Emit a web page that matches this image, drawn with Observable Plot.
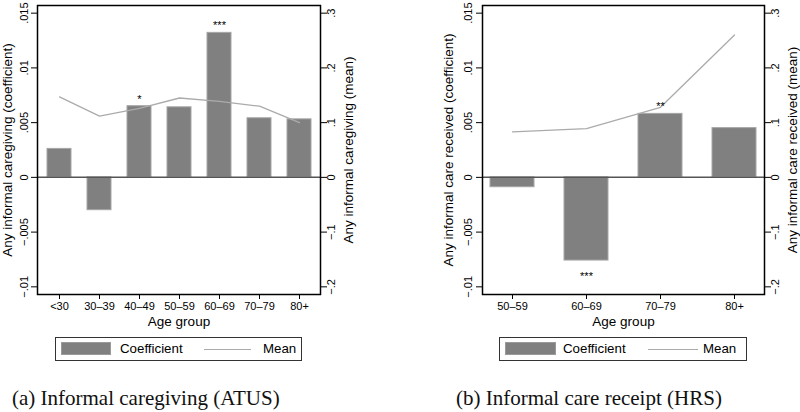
<!DOCTYPE html>
<html><head><meta charset="utf-8">
<script src="https://cdn.jsdelivr.net/npm/d3@7"></script>
<script src="https://cdn.jsdelivr.net/npm/@observablehq/plot@0.6"></script>
<style>
body{margin:0;background:#fff;font-family:"Liberation Sans",Arial,sans-serif;}
#wrap{position:relative;width:800px;height:412px;overflow:hidden;background:#fff}
.panel{position:absolute;top:0;width:400px;height:412px}
.panel svg{position:absolute;left:0;top:0}
g[aria-label$="axis label"], g[aria-label$="axis label"] text{font-size:13.5px !important}
.legend{position:absolute;top:337px;height:24px;border:1px solid #333;box-sizing:border-box;font-size:13.3px;color:#000}
.legend .sw{position:absolute;top:4px;height:13px;background:#808080;border:1px solid #9a9a9a;box-sizing:border-box}
.legend .ln{position:absolute;top:11px;height:0;border-top:1.3px solid #ababab}
.legend .tx{position:absolute;top:3px;line-height:15px;white-space:nowrap}
.caption{position:absolute;top:386px;font-family:"Liberation Serif","Times New Roman",serif;font-size:21px;color:#111;white-space:nowrap;line-height:24px}
</style></head>
<body><div id="wrap"></div>
<script>
const ageA = ["<30","30\u201339","40\u201349","50\u201359","60\u201369","70\u201379","80+"];
const coefA = [0.0026,-0.0030,0.0065,0.0064,0.0132,0.0054,0.0053];
const meanA = [0.147,0.112,0.126,0.145,0.139,0.130,0.100];
const starsA = ["","","*","","***","",""];

const ageB = ["50\u201359","60\u201369","70\u201379","80+"];
const coefB = [-0.0009,-0.0076,0.0058,0.0045];
const meanB = [0.083,0.089,0.128,0.260];
const starsB = ["","***","**",""];

const yTicks = [-0.01,-0.005,0,0.005,0.01,0.015];
const yTickLabels = ["\u2212.01","\u2212.005","0",".005",".01",".015"];
const meanTickLabels = ["\u2212.2","\u2212.1","0",".1",".2",".3"];
const meanPerCoef = 20;

function panel(cfg){
  const data = cfg.age.map((a,i)=>({age:a, coef:cfg.coef[i], mean:cfg.mean[i], star:cfg.stars[i]}));
  return Plot.plot({
    width:400, height:334, marginLeft:cfg.ml, marginRight:cfg.mr, marginTop:5, marginBottom:40,
    style:{fontFamily:"Liberation Sans, Arial, sans-serif", fontSize:"11px", color:"#000", background:"white", overflow:"visible"},
    x:{type:"band", domain:cfg.age, paddingInner:cfg.pi, paddingOuter:cfg.po},
    y:{domain:[-0.0107,0.0157]},
    marks:[
      Plot.barY(data,{x:"age",y:"coef",fill:"#808080",stroke:"#a6a6a6",strokeWidth:1}),
      Plot.ruleY([0],{stroke:"#555",strokeWidth:1.5}),
      Plot.line(data,{x:"age",y:d=>d.mean/meanPerCoef,stroke:"#ababab",strokeWidth:1.3}),
      Plot.text(data.filter(d=>d.star && d.coef>0),{x:"age",y:"coef",text:"star",dy:-7,fontSize:11}),
      Plot.text(data.filter(d=>d.star && d.coef<0),{x:"age",y:"coef",text:"star",dy:16,fontSize:11}),
      Plot.frame({stroke:"#000",strokeWidth:1.5}),
      Plot.axisX({tickSize:5,tickPadding:3,label:"Age group",labelAnchor:"center",labelArrow:"none",labelOffset:31}),
      Plot.axisY({anchor:"left",ticks:yTicks,tickFormat:d=>yTickLabels[yTicks.indexOf(d)],tickRotate:-90,tickSize:6,
        tickPadding:cfg.lp,lineAnchor:"bottom",
        label:cfg.leftLabel,labelAnchor:"center",labelArrow:"none",labelOffset:cfg.lo}),
      Plot.axisY({anchor:"right",ticks:yTicks,tickFormat:d=>meanTickLabels[yTicks.indexOf(d)],tickRotate:-90,tickSize:6,
        tickPadding:1,lineAnchor:"top",
        label:cfg.rightLabel,labelAnchor:"center",labelArrow:"none",labelOffset:cfg.ro})
    ]
  });
}

function legend(left,width,o){
  const L=document.createElement("div");L.className="legend";
  L.style.left=left+"px";L.style.width=width+"px";
  L.innerHTML=`<div class="sw" style="left:${o[0]}px;width:${o[1]}px"></div>
  <div class="tx" style="left:${o[2]}px">Coefficient</div>
  <div class="ln" style="left:${o[3]}px;width:${o[4]}px"></div>
  <div class="tx" style="left:${o[5]}px">Mean</div>`;
  return L;
}

const wrap=document.getElementById("wrap");
const cfgs=[
  {age:ageA,coef:coefA,mean:meanA,stars:starsA,ml:37,mr:80,pi:0.41,po:0.225,lo:35,ro:32.5,lp:4,
   leftLabel:"Any informal caregiving (coefficient)",rightLabel:"Any informal caregiving (mean)",
   legL:55,legW:247,leg:[5,50,64,148,47,207],cap:"(a) Informal caregiving (ATUS)",capX:12},
  {age:ageB,coef:coefB,mean:meanB,stars:starsB,ml:82,mr:36,pi:0.405,po:0.1075,lo:39,ro:32,lp:5,
   leftLabel:"Any informal care received (coefficient)",rightLabel:"Any informal care received (mean)",
   legL:99,legW:248,leg:[5,51,63,148,50,203],cap:"(b) Informal care receipt (HRS)",capX:56}
];
cfgs.forEach((c,i)=>{
  const p=document.createElement("div");p.className="panel";p.style.left=(i*400)+"px";
  p.appendChild(panel(c));
  p.appendChild(legend(c.legL,c.legW,c.leg));
  const cap=document.createElement("div");cap.className="caption";cap.style.left=c.capX+"px";cap.textContent=c.cap;
  p.appendChild(cap);
  wrap.appendChild(p);
});
</script></body></html>
